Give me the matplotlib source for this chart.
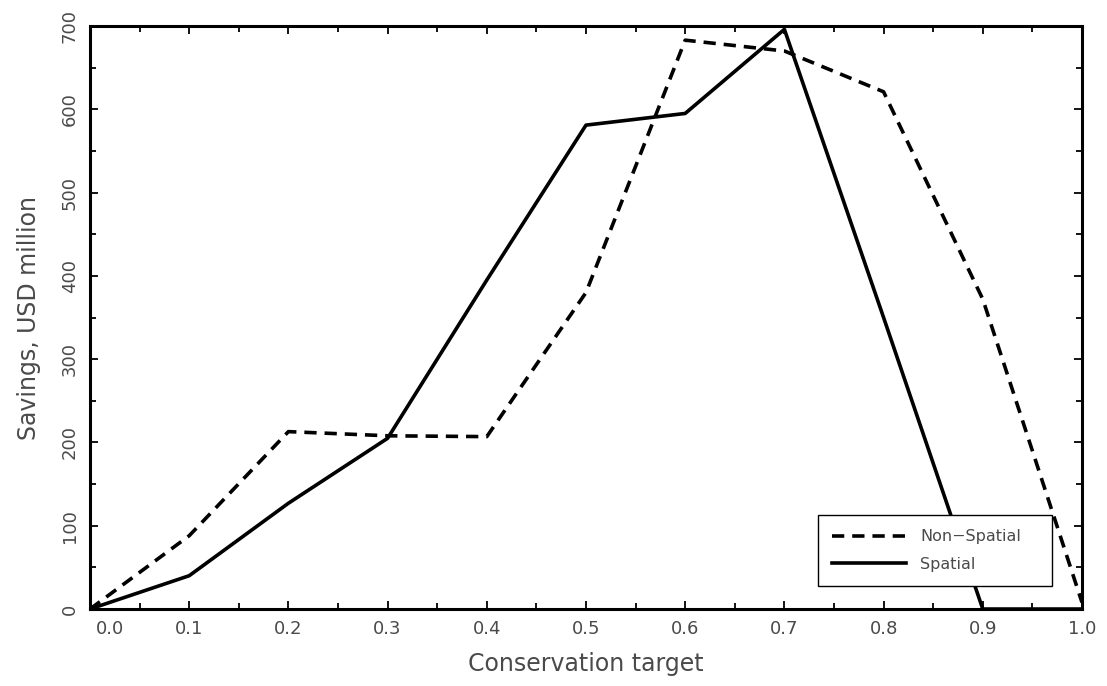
import matplotlib
matplotlib.use("Agg")
import matplotlib.pyplot as plt
import matplotlib.transforms as mtransforms
from matplotlib.ticker import MultipleLocator

# データ
target = [0.0, 0.1, 0.2, 0.3, 0.4, 0.5, 0.6, 0.7, 0.8, 0.9, 1.0]
non_spatial = [0, 88, 213, 208, 207, 380, 683, 670, 621, 372, 8]
spatial = [0, 40, 127, 205, 395, 581, 595, 696, 350, 0, 0]

x_ticks = [0.0, 0.1, 0.2, 0.3, 0.4, 0.5, 0.6, 0.7, 0.8, 0.9, 1.0]
x_tick_labels = ["0.0", "0.1", "0.2", "0.3", "0.4", "0.5", "0.6", "0.7", "0.8", "0.9", "1.0"]
y_ticks = [0, 100, 200, 300, 400, 500, 600, 700]

text_color = "#4a4a4a"

fig = plt.figure(figsize=(11.07, 6.86), dpi=100)
ax = fig.add_axes([0.0813, 0.1122, 0.8961, 0.8499])

ax.plot(target, non_spatial, color="black", lw=2.6, linestyle=(0, (3.4, 2.2)),
        label="Non\u2212Spatial", solid_capstyle="butt")
ax.plot(target, spatial, color="black", lw=2.6, label="Spatial")

ax.set_xlim(0, 1.0)
ax.set_ylim(0, 700)

ax.set_xticks(x_ticks)
ax.set_xticklabels(x_tick_labels)
ax.set_yticks(y_ticks)
ax.xaxis.set_minor_locator(MultipleLocator(0.05))
ax.yaxis.set_minor_locator(MultipleLocator(50))

# 目盛りは内向き，四辺すべて
ax.tick_params(which="both", direction="in", top=True, right=True, width=1.3, color="black")
ax.tick_params(which="major", length=6)
ax.tick_params(which="minor", length=4)
ax.tick_params(axis="x", which="major", labelsize=13, pad=8, labelcolor=text_color)
ax.tick_params(axis="y", which="major", labelsize=13, pad=8, labelcolor=text_color)
for lab in ax.get_yticklabels():
    lab.set_rotation(90)
    lab.set_va("center")

# 0.0 のラベルは右にずらす
offset = mtransforms.ScaledTranslation(0.20, 0, fig.dpi_scale_trans)
first = ax.get_xticklabels()[0]
first.set_transform(first.get_transform() + offset)

for s in ax.spines.values():
    s.set_linewidth(2.2)

ax.set_xlabel("Conservation target", fontsize=17, color=text_color, labelpad=10)
ax.set_ylabel("Savings, USD million", fontsize=17, color=text_color, labelpad=14)

leg = ax.legend(loc="lower left", bbox_to_anchor=(0.734, 0.039, 0.236, 0.11),
                mode="expand", borderaxespad=0, fontsize=11.5, handlelength=4.6,
                labelspacing=0.8, fancybox=False, framealpha=1, edgecolor="black",
                borderpad=0.9, handletextpad=0.9)
leg.get_frame().set_linewidth(1.0)
for t in leg.get_texts():
    t.set_color(text_color)

fig.savefig("out.png", dpi=100)
